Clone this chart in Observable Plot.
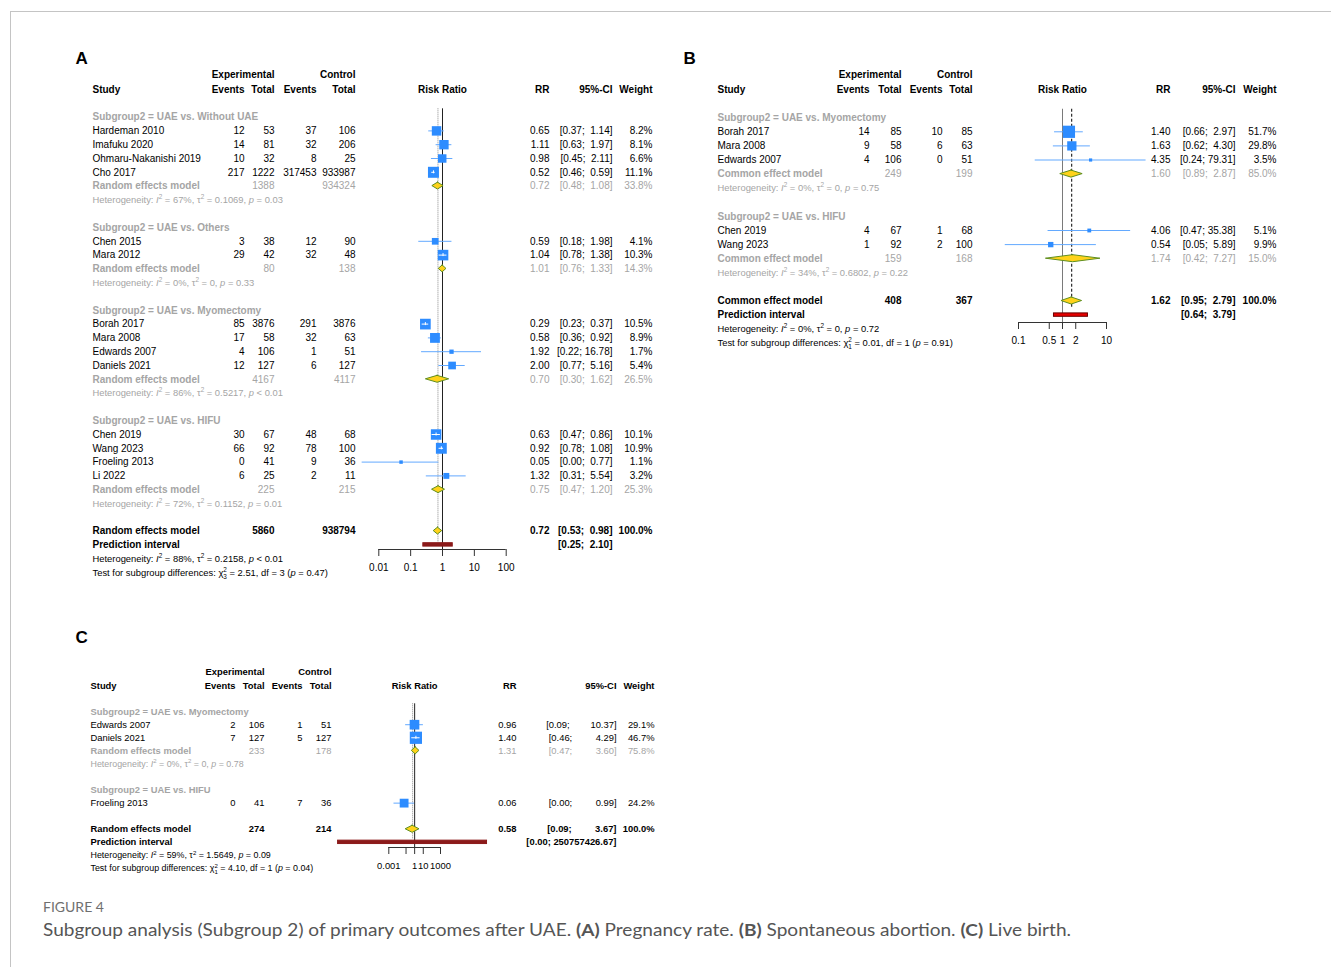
<!DOCTYPE html>
<html>
<head>
<meta charset="utf-8">
<script src="https://cdn.jsdelivr.net/npm/d3@7"></script>
<script src="https://cdn.jsdelivr.net/npm/@observablehq/plot@0.6"></script>
<style>
  html, body { margin: 0; padding: 0; background: #fff; }
  #page { position: relative; width: 1331px; height: 967px; overflow: hidden; background: #fff; }
  #frame { position: absolute; left: 10px; top: 11px; width: 1330px; height: 960px; border-top: 1px solid #c4c4c4; border-left: 1px solid #c4c4c4; }
  .panel { position: absolute; }
  .panel svg { display: block; overflow: visible; }
  #figlabel { position: absolute; left: 43px; top: 899px; font: 400 14px Lato, sans-serif; color: #6f6f6f; line-height: 16px; white-space: nowrap; }
  #figcap { position: absolute; left: 43px; top: 920px; font: 400 17px Lato, sans-serif; color: #555; line-height: 20px; white-space: nowrap; transform-origin: 0 0; }
  #figcap b { font-weight: 700; }
</style>
</head>
<body>
<div id="page">
  <div id="frame"></div>
  <div id="pA" class="panel"></div>
  <div id="pB" class="panel"></div>
  <div id="pC" class="panel"></div>
  <div id="figlabel">FIGURE 4</div>
  <div id="figcap">Subgroup analysis (Subgroup 2) of primary outcomes after UAE. <b>(A)</b> Pregnancy rate. <b>(B)</b> Spontaneous abortion. <b>(C)</b> Live birth.</div>
</div>
<script>
// ================= DATA: Panel A (Pregnancy rate) =================
const A_subgroups = ["UAE vs. Without UAE", "UAE vs. Others", "UAE vs. Myomectomy", "UAE vs. HIFU"];
const A_study = ["Hardeman 2010", "Imafuku 2020", "Ohmaru-Nakanishi 2019", "Cho 2017",
  "Chen 2015", "Mara 2012",
  "Borah 2017", "Mara 2008", "Edwards 2007", "Daniels 2021",
  "Chen 2019", "Wang 2023", "Froeling 2013", "Li 2022"];
const A_group = [0, 0, 0, 0, 1, 1, 2, 2, 2, 2, 3, 3, 3, 3];
const A_expE = [12, 14, 10, 217, 3, 29, 85, 17, 4, 12, 30, 66, 0, 6];
const A_expT = [53, 81, 32, 1222, 38, 42, 3876, 58, 106, 127, 67, 92, 41, 25];
const A_ctrlE = [37, 32, 8, 317453, 12, 32, 291, 32, 1, 6, 48, 78, 9, 2];
const A_ctrlT = [106, 206, 25, 933987, 90, 48, 3876, 63, 51, 127, 68, 100, 36, 11];
const A_rr = [0.65, 1.11, 0.98, 0.52, 0.59, 1.04, 0.29, 0.58, 1.92, 2.00, 0.63, 0.92, 0.05, 1.32];
const A_lo = [0.37, 0.63, 0.45, 0.46, 0.18, 0.78, 0.23, 0.36, 0.22, 0.77, 0.47, 0.78, 0.003, 0.31];
const A_hi = [1.14, 1.97, 2.11, 0.59, 1.98, 1.38, 0.37, 0.92, 16.78, 5.16, 0.86, 1.08, 0.77, 5.54];
const A_w = [8.2, 8.1, 6.6, 11.1, 4.1, 10.3, 10.5, 8.9, 1.7, 5.4, 10.1, 10.9, 1.1, 3.2];
const A_sumRR = [0.72, 1.01, 0.70, 0.75];
const A_sumLo = [0.48, 0.76, 0.30, 0.47];
const A_sumHi = [1.08, 1.33, 1.62, 1.20];
const A_sumW = [33.8, 14.3, 26.5, 25.3];
const A_sumExpT = [1388, 80, 4167, 225];
const A_sumCtrlT = [934324, 138, 4117, 215];
const A_hetI2 = [67, 0, 86, 72];
const A_hetTau2 = ["0.1069", "0", "0.5217", "0.1152"];
const A_hetP = ["= 0.03", "= 0.33", "< 0.01", "= 0.01"];
const A_overall = [0.72, 0.53, 0.98];
const A_overallW = 100.0;
const A_overallTot = [5860, 938794];
const A_pi = [0.25, 2.10];
const A_overallHet = [88, "0.2158", "< 0.01"];
const A_test = ["2.51", 3, "0.47"];
const A_ticks = [0.01, 0.1, 1, 10, 100];
const A_tickLabels = ["0.01", "0.1", "1", "10", "100"];

// ================= DATA: Panel B (Spontaneous abortion) =================
const B_subgroups = ["UAE vs. Myomectomy", "UAE vs. HIFU"];
const B_study = ["Borah 2017", "Mara 2008", "Edwards 2007", "Chen 2019", "Wang 2023"];
const B_group = [0, 0, 0, 1, 1];
const B_expE = [14, 9, 4, 4, 1];
const B_expT = [85, 58, 106, 67, 92];
const B_ctrlE = [10, 6, 0, 1, 2];
const B_ctrlT = [85, 63, 51, 68, 100];
const B_rr = [1.40, 1.63, 4.35, 4.06, 0.54];
const B_lo = [0.66, 0.62, 0.24, 0.47, 0.05];
const B_hi = [2.97, 4.30, 79.31, 35.38, 5.89];
const B_w = [51.7, 29.8, 3.5, 5.1, 9.9];
const B_sumRR = [1.60, 1.74];
const B_sumLo = [0.89, 0.42];
const B_sumHi = [2.87, 7.27];
const B_sumW = [85.0, 15.0];
const B_sumExpT = [249, 159];
const B_sumCtrlT = [199, 168];
const B_hetI2 = [0, 34];
const B_hetTau2 = ["0", "0.6802"];
const B_hetP = ["= 0.75", "= 0.22"];
const B_overall = [1.62, 0.95, 2.79];
const B_overallW = 100.0;
const B_overallTot = [408, 367];
const B_pi = [0.64, 3.79];
const B_overallHet = [0, "0", "= 0.72"];
const B_test = ["0.01", 1, "0.91"];
const B_ticks = [0.1, 0.5, 1, 2, 10];
const B_tickLabels = ["0.1", "0.5", "1", "2", "10"];

// ================= DATA: Panel C (Live birth) =================
const C_subgroups = ["UAE vs. Myomectomy", "UAE vs. HIFU"];
const C_study = ["Edwards 2007", "Daniels 2021", "Froeling 2013"];
const C_group = [0, 0, 1];
const C_expE = [2, 7, 0];
const C_expT = [106, 127, 41];
const C_ctrlE = [1, 5, 7];
const C_ctrlT = [51, 127, 36];
const C_rr = [0.96, 1.40, 0.06];
const C_lo = [0.09, 0.46, 0.004];
const C_hi = [10.37, 4.29, 0.99];
const C_w = [29.1, 46.7, 24.2];
const C_sumRR = [1.31, null];
const C_sumLo = [0.47, null];
const C_sumHi = [3.60, null];
const C_sumW = [75.8, null];
const C_sumExpT = [233, null];
const C_sumCtrlT = [178, null];
const C_hetI2 = [0, null];
const C_hetTau2 = ["0", null];
const C_hetP = ["= 0.78", null];
const C_overall = [0.58, 0.09, 3.67];
const C_overallW = 100.0;
const C_overallTot = [274, 214];
const C_pi = [1.3e-9, 250757426.67];
const C_overallHet = [59, "1.5649", "= 0.09"];
const C_test = ["4.10", 1, "0.04"];
const C_ticks = [0.001, 0.1, 1, 10, 1000];
const C_tickLabels = ["0.001", "", "1", "10", "1000"];

// ================= STYLE / LAYOUT =================
const FONT = "'Liberation Sans', Arial, Helvetica, sans-serif";
const SQ_BLUE = "#2d8cff", LINE_BLUE = "#63a9ff", GOLD = "#ffd21a", GREEN = "#5f8f1f", GRAY = "#a5a5a5";
const STY = {
  hdr: {fill: "#000", fw: "bold"},
  sub: {fill: GRAY, fw: "bold"},
  norm: {fill: "#000", fw: "normal"},
  sumL: {fill: GRAY, fw: "bold"},
  sumN: {fill: GRAY, fw: "normal"},
  tot: {fill: "#000", fw: "bold"},
  het: {fill: GRAY, fw: "normal", small: true},
  hetAll: {fill: "#000", fw: "normal", small: true}
};

function fmt2(v) { return v.toFixed(2); }
function ciStr(lo, hi, wd) {
  const h = fmt2(hi);
  return "[" + fmt2(lo) + ";\u00a0" + "\u00a0".repeat(Math.max(0, wd - h.length)) + h + "]";
}
function hetStr(i2, tau2, p) { return `Heterogeneity: {I}^2 = ${i2}%, τ^2 = ${tau2}, {p} ${p}`; }
function testStr(chi, df, p) { return `Test for subgroup differences: χ^2~${df} = ${chi}, df = ${df} ({p} = ${p})`; }

function buildPanel(L, D) {
  const rowH = L.rowH;
  const wMax = d3.max(D.w);
  const pxDec = (L.xRange[1] - L.xRange[0]) / Math.log10(L.xDomain[1] / L.xDomain[0]);
  const px = v => L.xRange[0] + pxDec * Math.log10(v / L.xDomain[0]);
  const side = w => 1.772 * L.rMax * Math.sqrt(w / wMax);
  const hiWd = d3.max([...D.hi, ...D.sumHi.filter(v => v != null), D.overall[2], D.pi[1]], v => fmt2(v).length);
  const cells = [];
  const cell = (row, col, text, sty) => cells.push({row, col, text: String(text), sty});
  const hr = -1.05;
  cell(hr, "expT", "Experimental", "hdr"); cell(hr, "ctrlT", "Control", "hdr");
  cell(0, "study", "Study", "hdr"); cell(0, "expE", "Events", "hdr"); cell(0, "expT", "Total", "hdr");
  cell(0, "ctrlE", "Events", "hdr"); cell(0, "ctrlT", "Total", "hdr");
  cell(0, "rr", "RR", "hdr"); cell(0, "ci", "95%-CI", "hdr"); cell(0, "w", "Weight", "hdr");
  const studies = [], diamonds = [];
  let r = 2;
  D.subgroups.forEach((sg, g) => {
    cell(r++, "study", "Subgroup2 = " + sg, "sub");
    D.study.forEach((name, i) => {
      if (D.group[i] !== g) return;
      const row = r++;
      studies.push({row, rr: D.rr[i], lo: D.lo[i], hi: D.hi[i], w: D.w[i]});
      cell(row, "study", name, "norm");
      cell(row, "expE", D.expE[i], "norm"); cell(row, "expT", D.expT[i], "norm");
      cell(row, "ctrlE", D.ctrlE[i], "norm"); cell(row, "ctrlT", D.ctrlT[i], "norm");
      cell(row, "rr", fmt2(D.rr[i]), "norm");
      cell(row, "ci", ciStr(D.lo[i], D.hi[i], hiWd), "norm");
      cell(row, "w", D.w[i].toFixed(1) + "%", "norm");
    });
    if (D.sumRR[g] != null) {
      const row = r++;
      diamonds.push({row, rr: D.sumRR[g], lo: D.sumLo[g], hi: D.sumHi[g]});
      cell(row, "study", L.model, "sumL");
      cell(row, "expT", D.sumExpT[g], "sumN"); cell(row, "ctrlT", D.sumCtrlT[g], "sumN");
      cell(row, "rr", fmt2(D.sumRR[g]), "sumN");
      cell(row, "ci", ciStr(D.sumLo[g], D.sumHi[g], hiWd), "sumN");
      cell(row, "w", D.sumW[g].toFixed(1) + "%", "sumN");
      cell(r++, "study", hetStr(D.hetI2[g], D.hetTau2[g], D.hetP[g]), "het");
    }
    r++;
  });
  const oRow = r;
  diamonds.push({row: oRow, rr: D.overall[0], lo: D.overall[1], hi: D.overall[2]});
  cell(oRow, "study", L.model, "tot");
  cell(oRow, "expT", D.overallTot[0], "tot"); cell(oRow, "ctrlT", D.overallTot[1], "tot");
  cell(oRow, "rr", fmt2(D.overall[0]), "tot");
  cell(oRow, "ci", ciStr(D.overall[1], D.overall[2], hiWd), "tot");
  cell(oRow, "w", D.overallW.toFixed(1) + "%", "tot");
  cell(oRow + 1, "study", "Prediction interval", "tot");
  cell(oRow + 1, "ci", ciStr(D.pi[0], D.pi[1], hiWd), "tot");
  cell(oRow + 2, "study", hetStr(...D.overallHet), "hetAll");
  cell(oRow + 3, "study", testStr(...D.test), "hetAll");

  const axisRow = (L.axisY - L.y0) / rowH;
  const inside = studies.filter(s => {
    const c = px(s.rr), h = side(s.w) / 2;
    return px(s.lo) > c - h && px(s.hi) < c + h;
  });
  const dh = L.diaH;
  const diaPts = diamonds.flatMap((d, k) => [
    {z: k, y: d.row - dh, x1: d.rr, x2: d.rr},
    {z: k, y: d.row, x1: d.lo, x2: d.hi},
    {z: k, y: d.row + dh, x1: d.rr, x2: d.rr}
  ]);

  const marks = [
    Plot.ruleX([1], {x: d => d, y1: () => 1.4, y2: () => axisRow, stroke: L.refStroke, strokeWidth: 1}),
    Plot.ruleX([D.overall[0]], {x: d => d, y1: () => 1.4, y2: () => oRow + L.estEnd, stroke: L.estStroke, strokeDasharray: L.estDash, strokeWidth: 1}),
    Plot.ruleY(studies, {y: "row", x1: "lo", x2: "hi", stroke: LINE_BLUE, strokeWidth: 1}),
    Plot.dot(studies, {x: "rr", y: "row", r: "w", symbol: "square", fill: SQ_BLUE, stroke: "none"}),
    Plot.ruleY(inside, {y: "row", x1: "lo", x2: "hi", stroke: "white", strokeWidth: 1}),
    Plot.ruleX(inside, {x: "rr", y1: d => d.row - 1.5 / rowH, y2: d => d.row + 1.5 / rowH, stroke: "white", strokeWidth: 1}),
    Plot.areaX(diaPts, {y: "y", x1: "x1", x2: "x2", z: "z", fill: GOLD, stroke: GREEN, strokeWidth: 1}),
    Plot.rect([D.pi], {x1: d => d[0], x2: d => d[1], y1: () => oRow + 1 - 1.7 / rowH, y2: () => oRow + 1 + 1.7 / rowH, fill: L.piFill, stroke: L.piStroke, strokeWidth: 1}),
    Plot.ruleY([axisRow], {y: d => d, x1: () => L.ticks[0], x2: () => L.ticks[L.ticks.length - 1], stroke: "#333"}),
    Plot.ruleX(L.ticks, {x: d => d, y1: () => axisRow, y2: () => axisRow + 7 / rowH, stroke: "#333"}),
    Plot.text(L.ticks, {x: d => d, y: () => axisRow + 18 / rowH, text: (d, i) => L.tickLabels[i], fontSize: L.fs, fill: "#000"}),
    Plot.text(["Risk Ratio"], {x: () => 1, y: () => 0, text: d => d, fontWeight: "bold", fontSize: L.fs, fill: "#000"}),
    Plot.text([L.letter], {frameAnchor: "top-left", dx: L.label[0] - L.ox, dy: L.label[1] - L.oy, text: d => d,
      textAnchor: "start", lineAnchor: "middle", fontSize: 17, fontWeight: "bold", fill: "#000"})
  ];
  for (const [key, arr] of d3.groups(cells, c => c.col + "|" + c.sty)) {
    const [col, sty] = key.split("|");
    const S = STY[sty];
    marks.push(Plot.text(arr, {
      y: "row", text: "text", frameAnchor: "left", dx: L.cols[col] - L.ox,
      textAnchor: col === "study" ? "start" : "end", lineAnchor: "middle",
      fill: S.fill, fontWeight: S.fw, fontSize: S.small ? L.hetFs : L.fs
    }));
  }

  return Plot.plot({
    width: L.W, height: L.H, margin: 0,
    style: {fontFamily: FONT, fontSize: L.fs + "px", background: "transparent", overflow: "visible"},
    x: {type: "log", domain: L.xDomain, range: L.xRange.map(v => v - L.ox), axis: null},
    y: {type: "linear", domain: [0, 10], range: [L.y0 - L.oy, L.y0 - L.oy + 10 * rowH], axis: null},
    r: {type: "sqrt", domain: [0, wMax], range: [0, L.rMax]},
    marks
  });
}

// rich text: {x} italic, ^x superscript, ~x subscript (stacked under a preceding superscript)
function richText(root) {
  d3.select(root).selectAll("text").each(function () {
    const s = this.textContent;
    if (!/[{^~]/.test(s)) return;
    const el = d3.select(this);
    el.text(null);
    const fs = parseFloat(getComputedStyle(this).fontSize) || 10;
    const re = /\{([^}]*)\}|\^(\w+)|~(\w+)/g;
    let last = 0, m, shift = 0, prevSup = null, prevEnd = -1;
    const plain = (t, italic) => {
      const ts = el.append("tspan").text(t);
      if (italic) ts.attr("font-style", "italic");
      if (shift !== 0) { ts.attr("dy", -shift); shift = 0; }
    };
    while ((m = re.exec(s))) {
      if (m.index > last) { plain(s.slice(last, m.index), false); prevSup = null; }
      if (m[1] !== undefined) { plain(m[1], true); prevSup = null; }
      else if (m[2] !== undefined) {
        const t = -0.42 * fs;
        prevSup = el.append("tspan").text(m[2]).attr("font-size", 0.68 * fs).attr("dy", t - shift);
        shift = t; prevEnd = re.lastIndex;
      } else {
        const t = 0.32 * fs;
        const ts = el.append("tspan").text(m[3]).attr("font-size", 0.68 * fs).attr("dy", t - shift);
        if (prevSup && prevEnd === m.index) ts.attr("dx", -prevSup.node().getComputedTextLength());
        shift = t; prevSup = null;
      }
      last = re.lastIndex;
    }
    if (last < s.length) plain(s.slice(last), false);
    else if (shift !== 0) el.append("tspan").text("\u200b").attr("dy", -shift);
  });
}

const layoutA = {
  letter: "A", ox: 60, oy: 30, W: 610, H: 560, fs: 10, hetFs: 9.4,
  y0: 89, rowH: 13.8, axisY: 549, label: [75, 58],
  cols: {study: 92, expE: 244, expT: 274, ctrlE: 316, ctrlT: 355, rr: 549, ci: 612, w: 652},
  xDomain: [0.01, 100], xRange: [378.3, 505.7], ticks: A_ticks, tickLabels: A_tickLabels,
  rMax: 6.2, diaH: 0.25, model: "Random effects model",
  refStroke: "#222", estStroke: "#8a8a8a", estDash: "1,1", estEnd: 0.8,
  piFill: "#8b1a1a", piStroke: "#8b1a1a"
};
const layoutB = {
  letter: "B", ox: 680, oy: 30, W: 650, H: 330, fs: 10, hetFs: 9.4,
  y0: 89, rowH: 14.1, axisY: 322, label: [683, 58],
  cols: {study: 717, expE: 869, expT: 901, ctrlE: 942, ctrlT: 972, rr: 1170, ci: 1235, w: 1276},
  xDomain: [0.1, 10], xRange: [1018, 1106], ticks: B_ticks, tickLabels: B_tickLabels,
  rMax: 6.9, diaH: 0.25, model: "Common effect model",
  refStroke: "#7a7a7a", estStroke: "#000", estDash: "3,2", estEnd: 0.55,
  piFill: "#e60000", piStroke: "#6a0000"
};
const layoutC = {
  letter: "C", ox: 60, oy: 615, W: 610, H: 265, fs: 9.4, hetFs: 8.9,
  y0: 685, rowH: 13.07, axisY: 847, label: [75, 637.5],
  cols: {study: 90, expE: 235, expT: 264, ctrlE: 302, ctrlT: 331, rr: 516, ci: 616, w: 654},
  xDomain: [0.001, 1000], xRange: [388.3, 440], ticks: C_ticks, tickLabels: C_tickLabels,
  rMax: 6.9, diaH: 0.27, model: "Random effects model",
  refStroke: "#222", estStroke: "#8a8a8a", estDash: "1,1", estEnd: 0.8,
  piFill: "#8b1a1a", piStroke: "#8b1a1a"
};

function bundle(p) {
  const g = n => window[p + "_" + n] !== undefined ? window[p + "_" + n] : eval(p + "_" + n);
  return {
    subgroups: g("subgroups"), study: g("study"), group: g("group"),
    expE: g("expE"), expT: g("expT"), ctrlE: g("ctrlE"), ctrlT: g("ctrlT"),
    rr: g("rr"), lo: g("lo"), hi: g("hi"), w: g("w"),
    sumRR: g("sumRR"), sumLo: g("sumLo"), sumHi: g("sumHi"), sumW: g("sumW"),
    sumExpT: g("sumExpT"), sumCtrlT: g("sumCtrlT"),
    hetI2: g("hetI2"), hetTau2: g("hetTau2"), hetP: g("hetP"),
    overall: g("overall"), overallW: g("overallW"), overallTot: g("overallTot"),
    pi: g("pi"), overallHet: g("overallHet"), test: g("test")
  };
}

[["pA", layoutA, "A"], ["pB", layoutB, "B"], ["pC", layoutC, "C"]].forEach(([id, L, p]) => {
  const host = document.getElementById(id);
  host.style.left = L.ox + "px";
  host.style.top = L.oy + "px";
  const svg = buildPanel(L, bundle(p));
  host.appendChild(svg);
  richText(svg);
});

function fitCaption() {
  const el = document.getElementById("figcap");
  el.style.transform = "none";
  const w = el.getBoundingClientRect().width;
  if (w > 0) el.style.transform = `scaleX(${1028 / w})`;
}
fitCaption();
if (document.fonts && document.fonts.ready) document.fonts.ready.then(fitCaption);
</script>
</body>
</html>
